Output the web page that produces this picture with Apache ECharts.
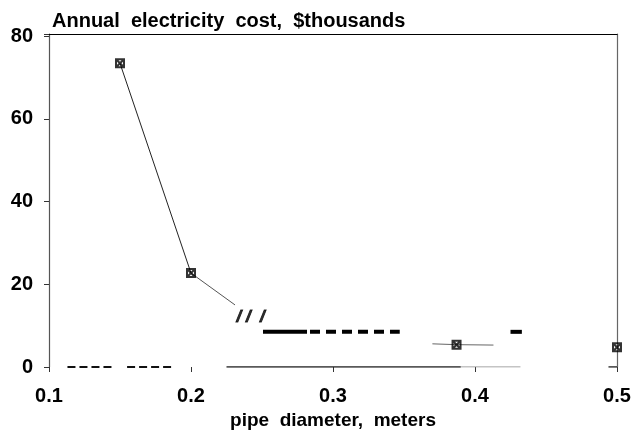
<!DOCTYPE html>
<html>
<head>
<meta charset="utf-8">
<title>Annual electricity cost vs pipe diameter</title>
<script src="https://cdn.jsdelivr.net/npm/echarts@6/dist/echarts.min.js"></script>
<style>
  html, body { margin: 0; padding: 0; background: #fff; }
  #chart { width: 635px; height: 430px; }
</style>
</head>
<body>
<div id="chart"></div>
<script>
// Computed designs: pipe diameter (m) and annual electricity cost ($ thousands)
const diameters = [0.15, 0.2, 0.387, 0.5];
const costs = [73.4, 22.7, 5.4, 4.8];

// Pieces of the cost curve that remain visible between the designs
const tailFromX = [0.2, 0.231];
const tailFromY = [22.7, 15.0];
const nearOptX = [0.37, 0.387, 0.413];
const nearOptY = [5.6, 5.4, 5.3];

// Axis break mark on the curve
const breakMark = [0.242, 11.9];

// Heavy reference level and its dashed continuation
const refLevel = 8.5;
const refSolid = [0.2507, 0.2817];
const refDashed = [0.2838, 0.347];
const refStub = [0.425, 0.433];

// Remaining fragments of the zero baseline: [from, to, style]
const baseline = [
  [0.113, 0.144, 'dash'],
  [0.155, 0.188, 'dash'],
  [0.225, 0.39, 'solid'],
  [0.39, 0.432, 'light'],
  [0.494, 0.5, 'solid']
];

// Axis ticks
const xTicks = { min: 0.1, max: 0.5, step: 0.1 };
const yTicks = { min: 0, max: 80.5, step: 20 };

const FONT = '"Liberation Sans", Arial, Helvetica, sans-serif';

// Boxed-cross marker: black square with four small triangular cut-outs
const boxedCross = 'path://M0,0 L10,0 L10,10 L0,10 Z ' +
  'M3.5,2 L5,3.5 L6.5,2 Z M8,3.5 L6.5,5 L8,6.5 Z M6.5,8 L5,6.5 L3.5,8 Z M2,6.5 L3.5,5 L2,3.5 Z';

function pairs(xs, ys) { return xs.map((x, i) => [x, ys[i]]); }
function level(xs, y) { return xs.map(x => [x, y]); }

const baseStyles = {
  dash:  { color: '#111', width: 2, type: [8, 4] },
  solid: { color: '#222', width: 1.5, type: 'solid' },
  light: { color: '#888', width: 1, type: 'solid' }
};

const series = [];

// Steep branch between the first two designs
series.push({
  type: 'line', data: pairs(diameters.slice(0, 2), costs.slice(0, 2)),
  symbol: 'none', lineStyle: { color: '#222', width: 1 }, z: 3
});
series.push({
  type: 'line', data: pairs(tailFromX, tailFromY),
  symbol: 'none', lineStyle: { color: '#555', width: 1 }, z: 3
});
series.push({
  type: 'line', data: pairs(nearOptX, nearOptY),
  symbol: 'none', lineStyle: { color: '#666', width: 1 }, z: 3
});

// Heavy reference level
series.push({
  type: 'line', data: level(refSolid, refLevel),
  symbol: 'none', lineStyle: { color: '#000', width: 4 }, z: 3
});
series.push({
  type: 'line', data: level(refDashed, refLevel),
  symbol: 'none', lineStyle: { color: '#000', width: 4, type: [10, 6] }, z: 3
});
series.push({
  type: 'line', data: level(refStub, refLevel),
  symbol: 'none', lineStyle: { color: '#000', width: 4 }, z: 3
});

// Zero baseline fragments
baseline.forEach(([a, b, s]) => {
  series.push({
    type: 'line', data: level([a, b], 0), symbol: 'none',
    lineStyle: baseStyles[s], z: 2
  });
});

// Break mark
series.push({
  type: 'scatter', data: [breakMark], symbolSize: 0, z: 4,
  label: {
    show: true, position: 'inside', formatter: '/ /  /',
    fontFamily: FONT, fontSize: 17, fontWeight: 'bold', fontStyle: 'italic',
    color: '#000', textBorderColor: '#000', textBorderWidth: 0.8
  }
});

// Design points
series.push({
  type: 'scatter', data: pairs(diameters, costs),
  symbol: boxedCross, symbolSize: 10,
  itemStyle: { color: '#000' }, z: 5
});

const option = {
  animation: false,
  backgroundColor: '#fff',
  title: {
    text: 'Annual  electricity  cost,  $thousands',
    left: 47, top: 6,
    textStyle: { fontFamily: FONT, fontSize: 20, fontWeight: 'bold', color: '#000' }
  },
  grid: {
    left: 49, right: 18, top: 34, bottom: 63,
    containLabel: false, outerBoundsMode: 'none'
  },
  xAxis: [{
    type: 'value', min: xTicks.min, max: xTicks.max, interval: xTicks.step,
    name: 'pipe  diameter,  meters', nameLocation: 'middle', nameGap: 29,
    nameTextStyle: { fontFamily: FONT, fontSize: 19, fontWeight: 'bold', color: '#000' },
    axisLine: { show: false },
    axisTick: { show: true, inside: false, length: 5, lineStyle: { color: '#333' } },
    axisLabel: {
      margin: 19, fontFamily: FONT, fontSize: 20, fontWeight: 'bold', color: '#000',
      formatter: v => v.toFixed(1)
    },
    splitLine: { show: false }
  }, {
    type: 'value', position: 'top', min: xTicks.min, max: xTicks.max,
    axisLine: { show: true, onZero: false, lineStyle: { color: '#000', width: 1.2 } },
    axisTick: { show: false }, axisLabel: { show: false }, splitLine: { show: false }
  }],
  yAxis: [{
    type: 'value', min: yTicks.min, max: yTicks.max, interval: yTicks.step,
    axisLine: { show: true, onZero: false, lineStyle: { color: '#555', width: 1.2 } },
    axisTick: { show: true, inside: false, length: 5, lineStyle: { color: '#333' } },
    axisLabel: {
      margin: 16, fontFamily: FONT, fontSize: 20, fontWeight: 'bold', color: '#000',
      formatter: v => (v % 20 === 0 ? String(v) : '')
    },
    splitLine: { show: false }
  }, {
    type: 'value', position: 'right', min: yTicks.min, max: yTicks.max,
    axisLine: { show: true, onZero: false, lineStyle: { color: '#666', width: 1.2 } },
    axisTick: { show: false }, axisLabel: { show: false }, splitLine: { show: false }
  }],
  series: series
};

const chart = echarts.init(document.getElementById('chart'), null, { renderer: 'canvas' });
chart.setOption(option);
</script>
</body>
</html>
